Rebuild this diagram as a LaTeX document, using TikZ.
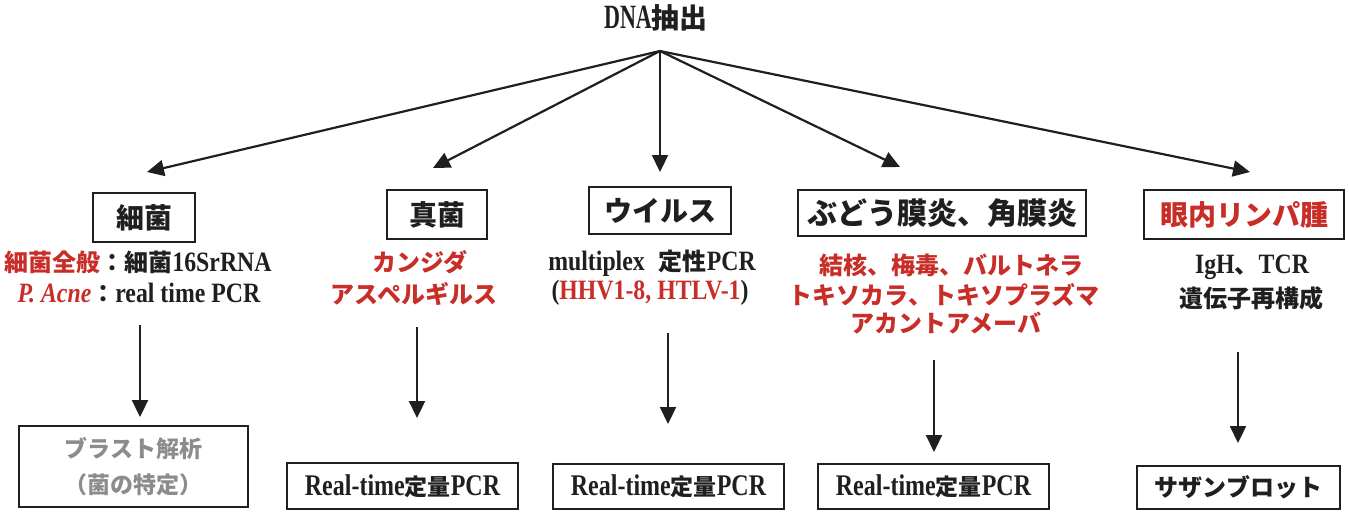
\documentclass[tikz,border=0pt]{standalone}
\usepackage{fontspec}
\setmainfont{Liberation Serif}
\newfontfamily\jp{Noto Sans CJK JP}
\newfontfamily\latM{Liberation Serif}[FakeStretch=0.85]
\newfontfamily\latC{Liberation Serif}[FakeStretch=0.8]
\newfontfamily\latD{Liberation Serif}[FakeStretch=0.65]
\usetikzlibrary{arrows.meta}
\definecolor{myred}{RGB}{200,45,40}
\definecolor{ink}{RGB}{30,32,30}
\definecolor{grayt}{RGB}{140,140,140}
\newcommand\jt[2]{{\jp\bfseries\fontsize{#1}{#1}\selectfont #2}}
\newcommand\lm[2]{{\latM\bfseries\fontsize{#1}{#1}\selectfont #2}}
\newcommand\lc[2]{{\latC\bfseries\fontsize{#1}{#1}\selectfont #2}}
\newcommand\ld[2]{{\latD\bfseries\fontsize{#1}{#1}\selectfont #2}}
\tikzset{
  box/.style={draw=ink, line width=1.2pt, inner sep=0pt, text=ink},
  arr/.style={-{Triangle[length=8.5pt,width=8pt]}, line width=1.1pt, draw=ink},
  lbl/.style={inner sep=0pt, text=ink}
}
\begin{document}
\begin{tikzpicture}[x=0.5pt,y=-0.5pt]
\useasboundingbox (0,0) rectangle (1349,511);
% top
\node[lbl] (top) at (656,18) {\ld{17}{DNA}\jt{14}{抽出}};
\coordinate (apex) at (660,51);
\coordinate (t1) at (147,172);
\coordinate (t2) at (433,168);
\coordinate (t3) at (660,172);
\coordinate (t4) at (900,167);
\coordinate (t5) at (1250,172);
\foreach \t in {t1,t2,t3,t4,t5} \draw[arr] (apex) -- (\t);
% category boxes
\node[box, minimum width=51pt, minimum height=24.5pt] (b1) at (144,217.5) {\jt{14}{細菌}};
\node[box, minimum width=50pt, minimum height=24.5pt] (b2) at (437,214.5) {\jt{14}{真菌}};
\node[box, minimum width=71pt, minimum height=23.5pt] (b3) at (660,210.5) {\jt{14}{ウイルス}};
\node[box, minimum width=144pt, minimum height=23pt] (b4) at (942,213) {\jt{15}{ぶどう膜炎、角膜炎}};
\node[box, minimum width=100pt, minimum height=24.5pt, text=myred] (b5) at (1244,214.5) {\jt{14}{眼内リンパ腫}};
% descriptions
\node[lbl] (d1a) at (138,262) {\jt{12}{\textcolor{myred}{細菌全般}：細菌}\lm{14}{16SrRNA}};
\node[lbl] (d1b) at (139,293) {\textcolor{myred}{\lm{14}{\itshape P. Acne}}\jt{12}{：}\lm{14}{real time PCR}};
\node[lbl, text=myred] (d2a) at (420,262) {\jt{12}{カンジダ}};
\node[lbl, text=myred] (d2b) at (414,294) {\jt{12}{アスペルギルス}};
\node[lbl] (d3a) at (652,263) {\lm{14}{multiplex}\hspace{7pt}\jt{12}{定性}\lm{14}{PCR}};
\node[lbl] (d3b) at (650,293) {\lm{14}{(\textcolor{myred}{HHV1-8, HTLV-1})}};
\node[lbl, text=myred] (d4a) at (951,265) {\jt{12}{結核、梅毒、バルトネラ}};
\node[lbl, text=myred] (d4b) at (944,295) {\jt{12}{トキソカラ、トキソプラズマ}};
\node[lbl, text=myred] (d4c) at (946,323) {\jt{12}{アカントアメーバ}};
\node[lbl] (d5a) at (1252,267) {\lm{14}{IgH}\jt{12}{、}\lm{14}{TCR}};
\node[lbl] (d5b) at (1251,298) {\jt{12}{遺伝子再構成}};
% down arrows
\coordinate (s1) at (140,325); \coordinate (e1) at (140,417);
\coordinate (s2) at (417,327); \coordinate (e2) at (417,418);
\coordinate (s3) at (668,333); \coordinate (e3) at (668,424);
\coordinate (s4) at (934,360); \coordinate (e4) at (934,452);
\coordinate (s5) at (1238,352); \coordinate (e5) at (1238,443);
\foreach \i in {1,...,5} \draw[arr] (s\i) -- (e\i);
% result boxes
\node[box, minimum width=114.5pt, minimum height=40.5pt, text=grayt, align=center] (c1) at (133.5,466.5) {\jt{11.5}{ブラスト解析}\\[6pt]\jt{11.5}{（菌の特定）}};
\node[box, minimum width=115.5pt, minimum height=23pt] (c2) at (402.5,486) {\lc{15}{Real-time}\jt{11.5}{定量}\lc{15}{PCR}};
\node[box, minimum width=115.5pt, minimum height=22.5pt] (c3) at (668.5,486.5) {\lc{15}{Real-time}\jt{11.5}{定量}\lc{15}{PCR}};
\node[box, minimum width=115.5pt, minimum height=22.5pt] (c4) at (933.5,486.5) {\lc{15}{Real-time}\jt{11.5}{定量}\lc{15}{PCR}};
\node[box, minimum width=101.5pt, minimum height=21.5pt] (c5) at (1238.5,487.5) {\jt{12}{サザンブロット}};
\end{tikzpicture}
\end{document}
